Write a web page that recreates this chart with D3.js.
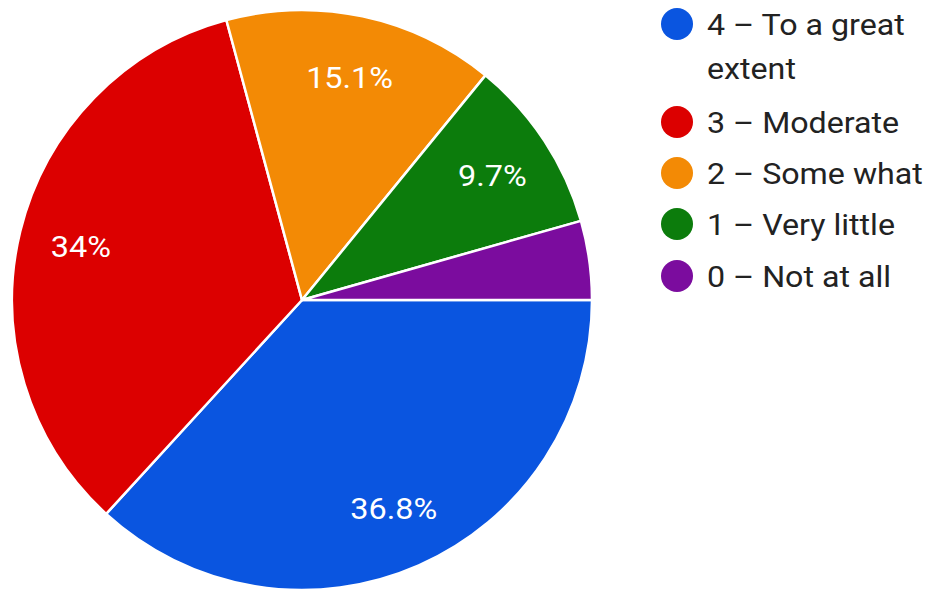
<!DOCTYPE html>
<html>
<head>
<meta charset="utf-8">
<script src="https://cdn.jsdelivr.net/npm/d3@7"></script>
<style>
  body { margin: 0; background: #fff; }
  svg { display: block; font-family: Roboto, "Noto Sans", sans-serif; }
</style>
</head>
<body>
<div id="chart"></div>
<script>
// chart data
var categories = ["4 \u2013 To a great extent", "3 \u2013 Moderate", "2 \u2013 Some what", "1 \u2013 Very little", "0 \u2013 Not at all"];
var legendLines = [["4 \u2013 To a great", "extent"], ["3 \u2013 Moderate"], ["2 \u2013 Some what"], ["1 \u2013 Very little"], ["0 \u2013 Not at all"]];
var values = [36.8, 34, 15.1, 9.7, 4.4];
var labels = ["36.8%", "34%", "15.1%", "9.7%", ""];
var colors = ["#0a55e0", "#dc0000", "#f38a05", "#0c7c0c", "#7b0c9e"];

function init() {
    var w = 930, h = 591;
    var cx = 302, cy = 300, r = 290;

    var svg = d3.select("#chart").append("svg")
        .attr("width", w)
        .attr("height", h);

    var pie = d3.pie()
        .sort(null)
        .startAngle(Math.PI / 2)
        .endAngle(Math.PI / 2 + 2 * Math.PI);

    var arc = d3.arc().innerRadius(0).outerRadius(r);
    var labelArc = d3.arc().innerRadius(r * 0.785).outerRadius(r * 0.785);

    var g = svg.append("g").attr("transform", "translate(" + cx + "," + cy + ")");
    var arcs = pie(values);

    g.selectAll("path")
        .data(arcs)
        .enter()
        .append("path")
        .attr("d", arc)
        .attr("fill", function (d, i) { return colors[i]; })
        .attr("stroke", "#fff")
        .attr("stroke-width", 2.5)
        .attr("stroke-linejoin", "round");

    // slice labels (text is a bit wide in the original, hence the x-scale)
    g.selectAll("text")
        .data(arcs)
        .enter()
        .append("text")
        .attr("transform", function (d) { return "translate(" + labelArc.centroid(d) + ") scale(1.08,1)"; })
        .attr("text-anchor", "middle")
        .attr("dy", "0.36em")
        .attr("fill", "#fff")
        .style("font-size", "30px")
        .text(function (d, i) { return labels[i]; });

    // legend
    var rowY = [24, 122, 173, 224, 276];
    var items = svg.append("g").selectAll("g")
        .data(categories)
        .enter()
        .append("g")
        .attr("transform", function (d, i) { return "translate(677," + rowY[i] + ")"; });

    items.append("circle")
        .attr("r", 16)
        .attr("fill", function (d, i) { return colors[i]; });

    items.append("text")
        .attr("transform", "translate(30,11) scale(1.11,1)")
        .attr("fill", "#222")
        .style("font-size", "29px")
        .selectAll("tspan")
        .data(function (d, i) { return legendLines[i]; })
        .enter()
        .append("tspan")
        .attr("x", 0)
        .attr("dy", function (d, j) { return j === 0 ? 0 : 44; })
        .text(function (d) { return d; });
}

window.onload = init;
</script>
</body>
</html>
